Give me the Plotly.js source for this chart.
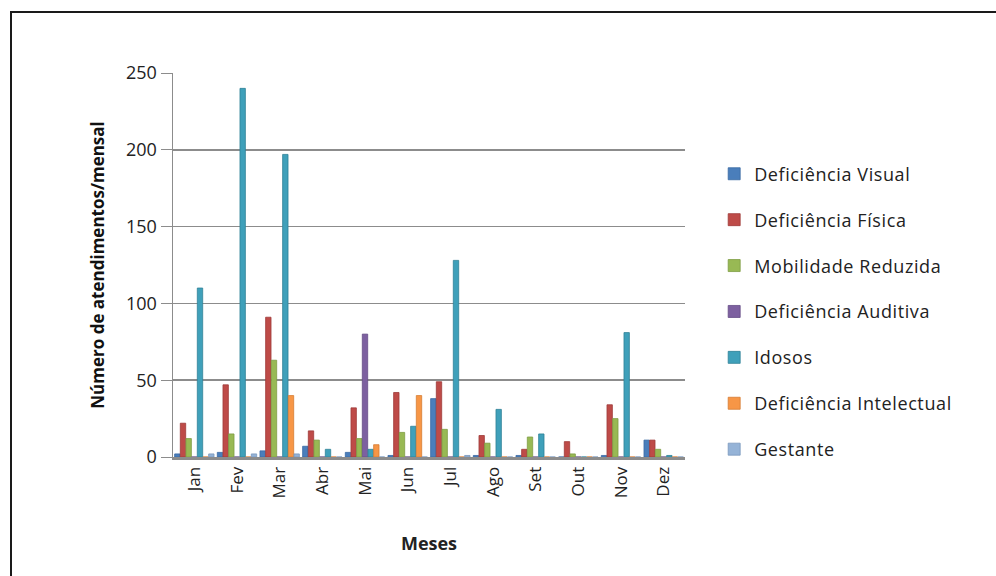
<!DOCTYPE html>
<html>
<head>
<meta charset="utf-8">
<script src="https://cdn.plot.ly/plotly-3.0.1.min.js"></script>
<style>
  html, body { margin: 0; padding: 0; background: #fff; width: 996px; height: 576px; overflow: hidden; }
  #frame { position: absolute; left: 10px; top: 11px; width: 990px; height: 600px; border: 2px solid #1a1a1a; box-sizing: border-box; pointer-events: none; z-index: 5; }
  #chart { position: absolute; left: 0; top: 0; width: 996px; height: 576px; }
  .legendtext { letter-spacing: 0.6px; }
</style>
</head>
<body>
<div id="chart"></div>
<div id="frame"></div>
<script>
const months = ["Jan","Fev","Mar","Abr","Mai","Jun","Jul","Ago","Set","Out","Nov","Dez"];
const seriesNames = ["Deficiência Visual","Deficiência Física","Mobilidade Reduzida","Deficiência Auditiva","Idosos","Deficiência Intelectual","Gestante"];
const visual      = [2, 3, 4, 7, 3, 1, 38, 1, 1, 0, 1, 11];
const fisica      = [22, 47, 91, 17, 32, 42, 49, 14, 5, 10, 34, 11];
const mobilidade  = [12, 15, 63, 11, 12, 16, 18, 9, 13, 2, 25, 5];
const auditiva    = [0, 0, 0, 0, 80, 0, 0, 0, 0, 0, 0, 0];
const idosos      = [110, 240, 197, 5, 5, 20, 128, 31, 15, 0, 81, 1];
const intelectual = [0, 0, 40, 0, 8, 40, 0, 0, 0, 0, 0, 0];
const gestante    = [2, 2, 2, 0, 0, 0, 1, 0, 0, 0, 0, 0];
const yTicks = [0, 50, 100, 150, 200, 250];

const allValues = [visual, fisica, mobilidade, auditiva, idosos, intelectual, gestante];
const colors = ["#4a7ebb","#be4b48","#98b954","#7d60a0","#3fa0ba","#f79646","#95b3d7"];
const lineColors = ["#3a6aa3","#9e3a38","#7e9c42","#654b85","#2f8297","#d67c32","#7a98bd"];

const traces = seriesNames.map((name, i) => ({
  type: "bar",
  name: name,
  x: months,
  y: allValues[i],
  legendgroup: "g" + i,
  marker: { color: colors[i], line: { color: lineColors[i], width: 0.8 } },
  hoverinfo: "x+y+name"
}));

const layout = {
  width: 996, height: 576,
  paper_bgcolor: "#ffffff",
  plot_bgcolor: "#ffffff",
  margin: { l: 173, r: 311, t: 73, b: 119 },
  barmode: "group",
  bargap: 0.07,
  bargroupgap: 0.05,
  font: { family: "Open Sans, Noto Sans, sans-serif", color: "#222" },
  xaxis: {
    type: "category",
    tickangle: -90,
    tickfont: { size: 17, color: "#222", family: "Open Sans, sans-serif" },
    showline: true, linecolor: "#8c8c8c", linewidth: 3,
    ticks: "", showgrid: false,
    title: { text: "Meses", font: { size: 18, color: "#222", family: "Open Sans, sans-serif", weight: "bold" }, standoff: 40 }
  },
  yaxis: {
    range: [0, 250],
    tickvals: yTicks,
    ticktext: yTicks.map(String),
    tickfont: { size: 18, color: "#222", family: "Open Sans, sans-serif" },
    showline: true, linecolor: "#8c8c8c", linewidth: 1.5,
    ticks: "outside", ticklen: 11, tickcolor: "#8c8c8c",
    showgrid: true, gridcolor: "#8c8c8c", gridwidth: 1.5,
    zeroline: false,
    title: { text: "Número de atendimentos/mensal", font: { size: 17, color: "#111", family: "Open Sans, sans-serif", weight: "bold" }, standoff: 17 }
  },
  legend: {
    x: 1.057, xanchor: "left",
    y: 0.785, yanchor: "top",
    font: { size: 18, color: "#222", family: "Open Sans, sans-serif" },
    tracegroupgap: 19.5,
    itemwidth: 30,
    bgcolor: "rgba(0,0,0,0)"
  },
  showlegend: true
};

Plotly.newPlot("chart", traces, layout, { displayModeBar: false, staticPlot: true });
</script>
</body>
</html>
